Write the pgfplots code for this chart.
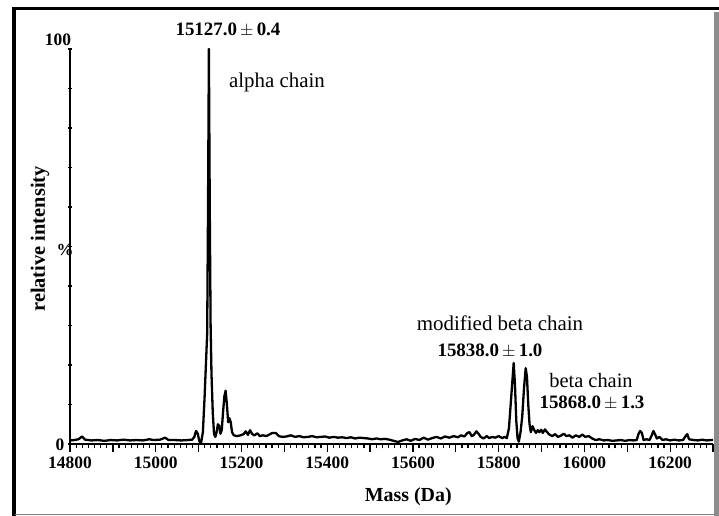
\documentclass[border=0pt]{standalone}
\usepackage{fontspec}
\setmainfont{Liberation Serif}
\usepackage{pgfplots}
\pgfplotsset{compat=1.18}
\newcommand{\tl}[1]{{\fontsize{17.5}{18}\selectfont\bfseries #1}}
\begin{document}
\begin{tikzpicture}[x=1bp,y=1bp]
\useasboundingbox (0,0) rectangle (719,516);
% frame
\fill[black] (12,0) rectangle (15.5,509);
\fill[black] (12,505.5) rectangle (719,509);
\fill[gray!90] (713.5,0) rectangle (719,504);
\draw[gray, line width=1.2bp] (15,1.5) -- (714,1.5);
% y axis (short ticks)
\begin{axis}[
  at={(70bp,72bp)}, anchor=south west,
  scale only axis, width=643bp, height=395bp,
  xmin=14800, xmax=16300, ymin=0, ymax=100,
  axis x line=none, axis y line=left,
  axis line style={-, line width=1.6bp},
  ytick={0,10,...,100}, yticklabels={},
  ytick style={line width=1.6bp, black},
  major tick length=3.5bp, tick align=center,
  ylabel={\textbf{relative intensity}},
  ylabel style={font=\fontsize{20.5}{22}\selectfont, at={(rel axis cs:-0.0467,0.519)}, anchor=center},
]
\end{axis}
\begin{axis}[
  at={(70bp,72bp)}, anchor=south west,
  scale only axis, width=643bp, height=395bp,
  xmin=14800, xmax=16300, ymin=0, ymax=100,
  axis x line=bottom, axis y line=none,
  axis line style={-, line width=1.6bp},
  clip=false,
  scaled x ticks=false,
  xtick={14800,14900,...,16300},
  xticklabels={\tl{14800},,\tl{15000},,\tl{15200},,\tl{15400},,\tl{15600},,\tl{15800},,\tl{16000},,\tl{16200},},
  minor x tick num=6,
  xtick style={line width=1.3bp, black},
  minor x tick style={line width=1.2bp},
  major tick length=8bp, minor tick length=4.5bp,
  tick align=outside,
  xticklabel style={yshift=-1bp},
  xlabel={\textbf{Mass (Da)}},
  xlabel style={font=\fontsize{20}{21}\selectfont, at={(rel axis cs:0.526,-0.134)}, anchor=center},
]
\addplot[black, line width=2.3bp, line join=round] coordinates {
(14800,0.9) (14810,1.0) (14820,1.2) (14828,1.9) (14835,1.1) (14850,0.9) (14865,1.0) (14880,0.8)
(14895,1.0) (14910,0.9) (14925,1.1) (14940,0.9) (14955,1.0) (14970,0.9) (14985,1.2) (14995,1.0)
(15010,1.1) (15022,1.6) (15030,1.0) (15045,1.0) (15060,0.9) (15075,1.0) (15085,1.1)
(15090,1.8) (15094,3.3) (15098,2.6) (15102,0.6) (15106,0.4) (15110,3) (15114,12) (15117,20)
(15120,28) (15122,60) (15124,100) (15126,60) (15128,30) (15130,18) (15133,8) (15136,2.5)
(15139,1.8) (15142,3) (15145,5) (15148,4.6) (15151,2.6) (15154,3.5) (15157,8) (15160,12)
(15163,13.5) (15166,10) (15169,5.5) (15172,6.5) (15175,5.5) (15178,3) (15182,2.2) (15190,2.0)
(15198,2.2) (15205,2.5) (15210,3.2) (15215,2.3) (15220,3.5) (15225,2.5) (15230,2.2) (15237,2.7)
(15243,2.0) (15250,2.2) (15258,2.0) (15265,2.4) (15272,2.8) (15280,2.8) (15287,2.0) (15295,1.8)
(15305,1.9) (15315,2.2) (15325,1.8) (15335,2.0) (15345,1.7) (15355,1.8) (15365,2.0) (15375,1.7)
(15385,1.8) (15395,1.9) (15405,1.6) (15415,1.8) (15425,1.6) (15435,1.7) (15445,1.5) (15455,1.7)
(15465,1.4) (15475,1.6) (15485,1.5) (15495,1.4) (15505,1.2) (15515,1.4) (15525,1.2) (15535,1.3)
(15545,1.1) (15555,0.8) (15565,0.5) (15575,0.9) (15585,1.2) (15595,0.8) (15605,1.3) (15615,1.0)
(15625,1.6) (15635,1.1) (15645,1.5) (15655,1.8) (15665,1.4) (15675,1.9) (15685,1.6) (15695,2.0)
(15705,1.7) (15712,2.2) (15720,1.9) (15727,2.8) (15732,3.0) (15737,2.0) (15742,2.3) (15748,3.2)
(15753,2.6) (15758,1.8) (15765,1.4) (15772,2.0) (15778,1.5) (15785,1.8) (15792,1.6) (15800,2.0)
(15808,1.5) (15814,1.8) (15819,1.5) (15824,4) (15828,10) (15832,16) (15835,20.5) (15838,15)
(15841,6) (15844,1.5) (15847,0.6) (15851,3) (15855,7) (15859,14) (15863,19.2) (15866,17)
(15869,10) (15872,5) (15875,3) (15879,4.5) (15883,3.5) (15887,2.8) (15891,3.5) (15895,3.0)
(15899,3.6) (15903,2.8) (15908,3.7) (15913,3.0) (15918,2.4) (15925,2.0) (15932,2.5) (15938,1.8)
(15945,2.1) (15952,2.6) (15958,2.0) (15965,2.2) (15972,1.6) (15980,2.2) (15988,1.8) (15995,2.4)
(16002,1.8) (16010,2.0) (16018,1.4) (16026,1.0) (16035,1.2) (16045,0.9) (16055,1.0) (16065,0.8)
(16075,0.9) (16085,1.0) (16095,0.8) (16105,1.0) (16115,0.9) (16122,1.0) (16126,2.5) (16130,3.3)
(16134,2.8) (16138,1.0) (16145,1.2) (16152,1.0) (16157,2.2) (16161,3.3) (16165,2.4) (16169,1.4)
(16175,1.8) (16182,1.0) (16190,1.2) (16200,0.9) (16210,1.1) (16220,0.9) (16230,1.0) (16236,2.0)
(16240,2.5) (16244,1.2) (16255,1.0) (16265,0.9) (16275,1.1) (16285,0.9) (16295,1.0) (16300,1.0)
};
\end{axis}
% y tick labels and annotations (text)
\node[font=\fontsize{17.5}{18}\selectfont\bfseries] at (58,476) {100};
\node[font=\fontsize{17.5}{18}\selectfont\bfseries] at (60,71) {0};
\node[font=\fontsize{17}{18}\selectfont\bfseries] at (65,266) {\%};
\node[font=\fontsize{19}{20}\selectfont\bfseries] at (228,486) {15127.0\,$\pm$\,0.4};
\node[font=\fontsize{21}{22}\selectfont] at (277,434) {alpha chain};
\node[font=\fontsize{21}{22}\selectfont] at (500,193) {modified beta chain};
\node[font=\fontsize{19}{20}\selectfont\bfseries] at (490,165) {15838.0\,$\pm$\,1.0};
\node[font=\fontsize{20.5}{21}\selectfont, inner sep=0pt] at (591,135) {beta chain};
\node[font=\fontsize{19}{20}\selectfont\bfseries, inner sep=0pt] at (592,113) {15868.0\,$\pm$\,1.3};
\end{tikzpicture}
\end{document}
